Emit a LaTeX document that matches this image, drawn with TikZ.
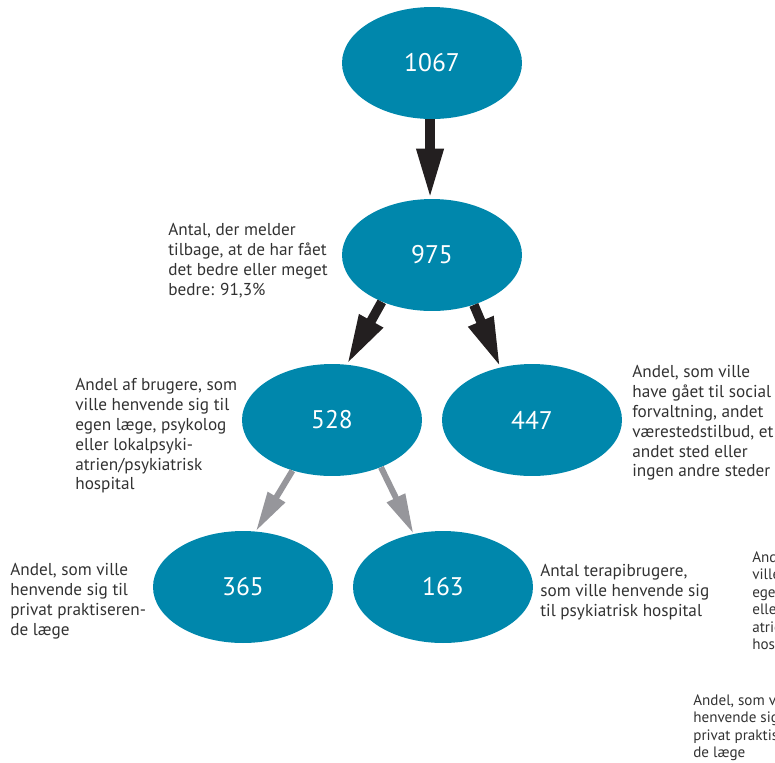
\documentclass[tikz,border=0pt]{standalone}
\usepackage{fontspec}
\setmainfont{PT Sans}
\usetikzlibrary{arrows.meta}
\usetikzlibrary{shapes.geometric}
\definecolor{petrol}{RGB}{0,135,172}
\definecolor{arrowblack}{RGB}{35,31,32}
\definecolor{arrowgray}{RGB}{150,150,155}
\definecolor{labeltext}{RGB}{50,50,50}
\tikzset{
	countnode/.style={shape=ellipse,fill=petrol,text=white,minimum width=3.6cm,minimum height=2.24cm,inner sep=0pt,font=\fontsize{14.5}{16}\selectfont},
	notetext/.style={anchor=north west,align=left,inner sep=0pt,text=labeltext,font=\fontsize{9.8}{11.3}\selectfont},
	ghosttext/.style={notetext,font=\fontsize{8.6}{10}\selectfont},
	bigarrow/.style={draw=arrowblack,line width=0.19cm,-{Triangle[length=1cm,width=0.5cm]}},
	greyarrow/.style={draw=arrowgray,line width=0.12cm,-{Triangle[length=0.8cm,width=0.38cm]}}
}
\newcommand{\drawcount}[3]{
	\node[countnode] (#2) at #1 {#3};
}

\begin{document}
\begin{tikzpicture}[x=0.02cm,y=-0.02cm]
	\useasboundingbox (0,0) rectangle (775,762);
	\clip (0,0) rectangle (775,762);
	\drawcount{(432,63)}{n1067}{1067}
	\drawcount{(432,255)}{n975}{975}
	\drawcount{(332,420)}{n528}{528}
	\drawcount{(532,420)}{n447}{447}
	\drawcount{(243,587)}{n365}{365}
	\drawcount{(443,587)}{n163}{163}
	\draw[bigarrow] (n1067.268) -- (n975.92);
	\draw[bigarrow] (n975.223) -- (n528.75);
	\draw[bigarrow] (n975.310) -- (n447.121);
	\draw[greyarrow] (n528.232) -- (n365.77);
	\draw[greyarrow] (n528.316) -- (n163.119);
	\node[notetext] (l975) at (168,223) {Antal, der melder\\tilbage, at de har fået\\det bedre eller meget\\bedre: 91,3\%};
	\node[notetext] (l528) at (75,378) {Andel af brugere, som\\ville henvende sig til\\egen læge, psykolog\\eller lokalpsyki-\\atrien/psykiatrisk\\hospital};
	\node[notetext] (l447) at (632,365) {Andel, som ville\\have gået til social\\forvaltning, andet\\værestedstilbud, et\\andet sted eller\\ingen andre steder};
	\node[notetext] (l365) at (10,563) {Andel, som ville\\henvende sig til\\privat praktiseren-\\de læge};
	\node[notetext] (l163) at (540,564) {Antal terapibrugere,\\som ville henvende sig\\til psykiatrisk hospital};
	\node[ghosttext] (g528) at (752,551) {Andel af brugere, som\\ville henvende sig til\\egen læge, psykolog\\eller lokalpsyki-\\atrien/psykiatrisk\\hospital};
	\node[ghosttext] (g365) at (693,694) {Andel, som ville\\henvende sig til\\privat praktiseren-\\de læge};
\end{tikzpicture}
\end{document}
